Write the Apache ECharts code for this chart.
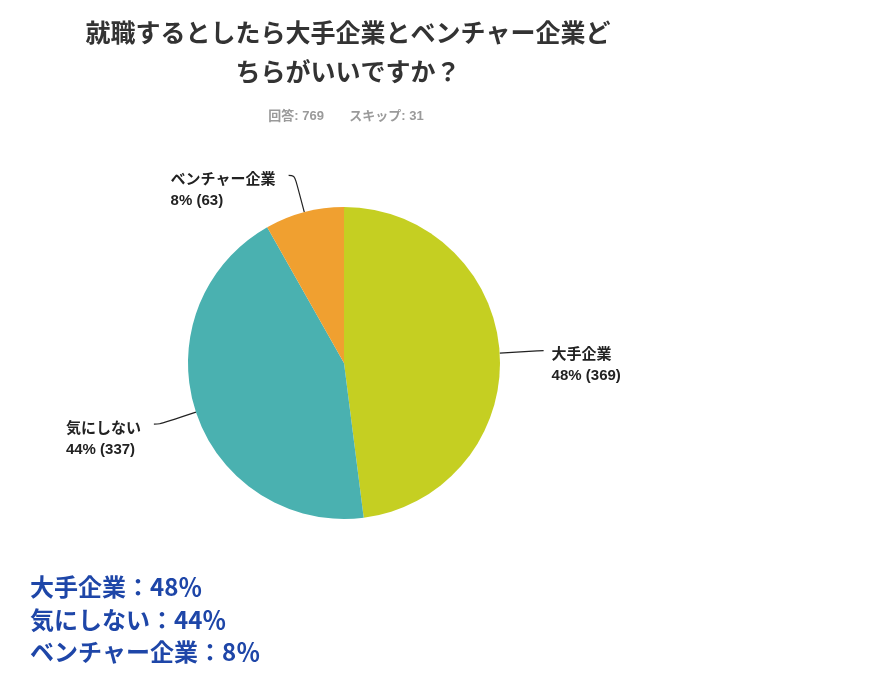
<!DOCTYPE html>
<html>
<head>
<meta charset="utf-8">
<script src="https://cdn.jsdelivr.net/npm/echarts@6/dist/echarts.min.js"></script>
<style>
  html, body { margin: 0; padding: 0; background: #fff; }
  #chart { width: 886px; height: 681px; }
</style>
</head>
<body>
<div id="chart"></div>
<script>
// 就職アンケート（大手 vs ベンチャー）円グラフ
const categories = ['大手企業', '気にしない', 'ベンチャー企業'];
const counts = [369, 337, 63];
const colors = ['#c5cf22', '#4ab1b0', '#f0a030'];
const titleLines = ['就職するとしたら大手企業とベンチャー企業ど', 'ちらがいいですか？'];
const answered = 769;
const skipped = 31;
const summaryLines = ['大手企業：48％', '気にしない：44％', 'ベンチャー企業：8％'];

const JP = '"Liberation Sans", "Noto Sans CJK JP", sans-serif';
const JP_BLOCK = '"Noto Sans CJK JP", sans-serif';

const chart = echarts.init(document.getElementById('chart'), null, { renderer: 'canvas' });

const total = counts.reduce((a, b) => a + b, 0);

chart.setOption({
  backgroundColor: '#fff',
  animation: false,
  title: [
    {
      text: titleLines.join('\n'),
      left: 343, top: 8, textAlign: 'center',
      textStyle: { fontFamily: JP_BLOCK, fontSize: 25, fontWeight: 'bold', color: '#333', lineHeight: 39 },
    },
    {
      text: '回答: ' + answered + '       スキップ: ' + skipped,
      left: 341, top: 105, textAlign: 'center',
      textStyle: { fontFamily: JP, fontSize: 13, fontWeight: 'bold', color: '#9a9a9a' },
    },
  ],
  graphic: summaryLines.map((s, i) => ({
    type: 'text', left: 30, top: 575 + i * 32.5,
    style: { text: s, font: 'bold 24px ' + JP_BLOCK, fill: '#1e46a8' },
  })),
  series: [{
    type: 'pie',
    center: [344, 363],
    radius: 156,
    startAngle: 90,
    clockwise: true,
    avoidLabelOverlap: false,
    data: categories.map((n, i) => ({
      name: n, value: counts[i], itemStyle: { color: colors[i] },
      label: { distanceToLabelLine: i === 0 ? 8 : 13 },
    })),
    label: {
      show: true,
      color: '#222',
      padding: [30, 0, 0, 0],
      formatter: (p) => '{a|' + p.name + '}\n{a|' + Math.round(p.value / total * 100) + '% (' + p.value + ')}',
      rich: {
        a: { align: 'left', fontFamily: JP, fontSize: 15, fontWeight: 'bold', color: '#222', lineHeight: 21 },
      },
    },
    labelLine: {
      show: true, length: 38, length2: 6, smooth: 0.4,
      lineStyle: { color: '#222', width: 1.2 },
    },
    emphasis: { disabled: true },
  }],
});
</script>
</body>
</html>
